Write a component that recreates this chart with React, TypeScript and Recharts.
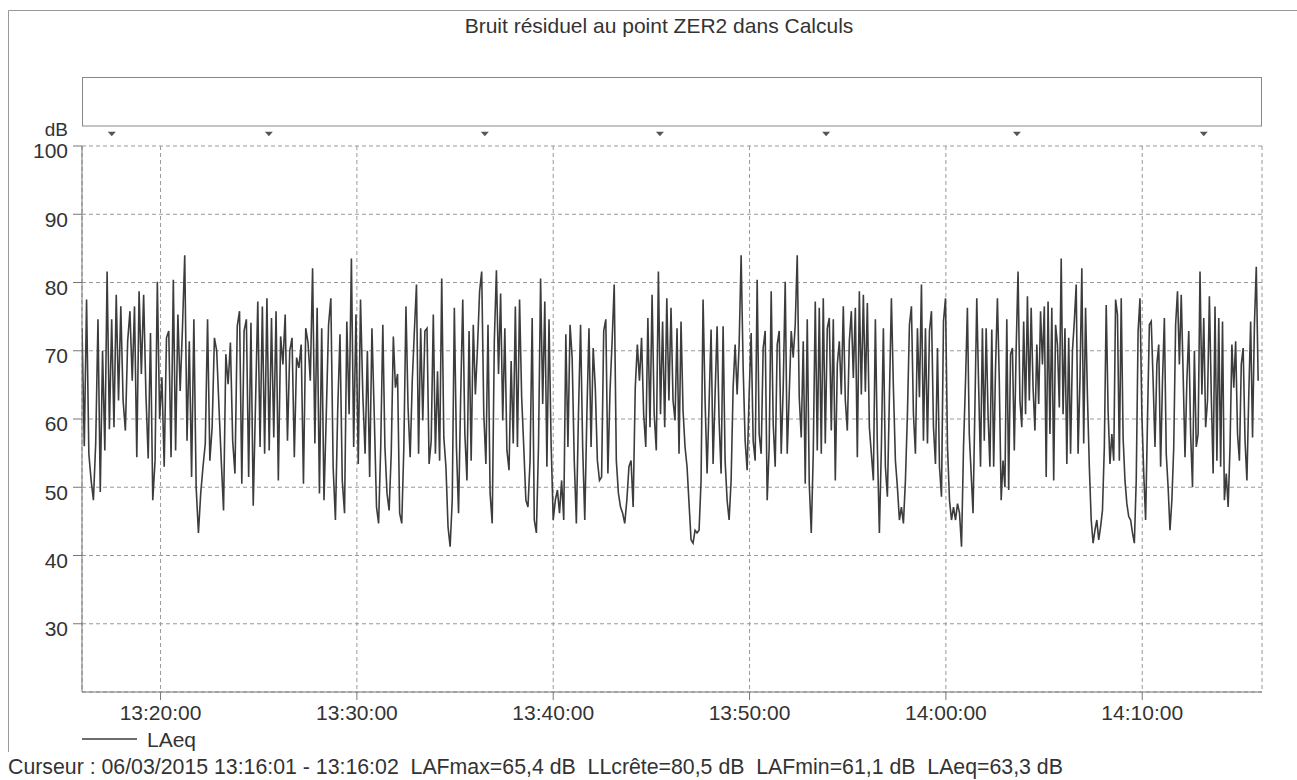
import React from 'react';
import { LineChart, Line, XAxis, YAxis, CartesianGrid, ReferenceDot } from 'recharts';

const FONT = '"Liberation Sans", Arial, Helvetica, sans-serif';

// LAeq readings, 15 minutes per segment, starting 13:16:00
const SEG_1316 = [
  73.3, 56.0, 77.5, 54.9, 51.0, 48.1, 56.4, 74.6, 49.3, 70.0, 55.4, 81.6, 58.5, 74.6, 58.8, 78.2, 62.7, 76.5, 62.7, 58.3,
  71.4, 75.8, 65.6, 76.5, 54.4, 78.7, 66.6, 78.2, 63.6, 54.2, 72.6, 48.1, 53.9, 80.1, 60.0, 66.1, 53.0, 71.9, 72.9, 54.4,
  80.4, 55.4, 75.3, 64.1, 73.3, 84.0, 56.8, 71.4, 51.5, 74.6, 50.0, 43.3, 49.1, 53.0, 56.4, 74.6, 53.9, 58.8, 71.9, 70.0,
  61.7, 53.9, 46.6, 69.5, 65.1, 71.2, 56.8, 52.0, 73.6, 75.8, 50.5, 72.9, 74.6, 51.5, 74.1, 47.3, 62.2, 77.2, 55.9, 76.5,
  54.9, 77.7, 55.4, 74.8, 57.3, 75.8, 51.0, 72.1, 68.0, 75.3, 56.8, 70.0, 71.9, 54.4, 69.0, 67.5, 70.9, 50.5, 73.3, 71.2,
  65.6, 82.1, 56.4, 76.3, 49.1, 73.3, 48.1, 60.7, 73.8, 77.7, 53.0, 45.2, 61.2, 72.4, 51.0, 46.2, 74.3, 60.7, 83.5, 55.9,
  75.3, 53.4, 77.5, 63.6, 54.9, 70.0, 51.5, 73.3, 60.7,
];
const SEG_1331 = [
  47.1, 44.7, 55.9, 73.8, 55.9, 49.1, 46.6, 54.9, 72.1, 64.6, 66.6, 46.2, 44.7, 55.9, 76.5, 61.7, 54.4, 65.6, 72.9, 79.7,
  54.9, 73.3, 59.8, 72.9, 73.3, 53.4, 56.8, 75.3, 54.9, 67.0, 53.9, 80.6, 57.3, 53.0, 44.2, 41.3, 48.1, 76.3, 55.9, 46.2,
  63.2, 77.5, 57.8, 51.0, 72.9, 53.9, 73.8, 63.6, 70.4, 78.7, 81.6, 60.7, 53.4, 73.8, 49.1, 44.7, 71.4, 81.8, 66.6, 78.4,
  59.8, 73.3, 55.4, 52.5, 68.5, 56.4, 76.5, 55.9, 77.5, 63.2, 55.9, 48.1, 47.1, 53.9, 74.8, 45.2, 43.3, 55.9, 80.6, 62.2,
  77.2, 53.0, 74.6, 56.4, 45.2, 48.1, 49.6, 46.2, 51.0, 45.2, 72.4, 55.9, 73.8, 69.0, 53.9, 44.7, 60.7, 73.8, 55.9, 45.2,
  60.7, 73.3, 55.9, 70.4, 64.6, 53.9, 51.0, 51.5, 72.9, 74.6, 52.0, 64.1, 71.4, 79.7, 53.9, 49.1, 47.1, 46.2, 44.7, 48.1,
  53.0, 53.9, 47.1, 64.6, 70.9, 65.6, 71.9, 60.7, 55.9, 74.8, 58.8, 78.2, 60.7, 55.4, 81.6, 60.7, 74.3, 58.8, 77.7, 62.7,
];
const SEG_1346 = [
  76.3, 62.7, 59.8, 73.3, 54.9, 74.3, 61.2, 55.9, 53.0, 47.6, 42.3, 41.8, 43.7, 43.3, 43.7, 51.0, 77.5, 62.7, 52.0, 62.2,
  73.1, 53.4, 63.6, 73.6, 59.8, 52.0, 73.6, 53.9, 48.1, 45.2, 51.0, 64.6, 70.9, 63.6, 70.9, 84.0, 67.5, 56.8, 52.5, 63.6,
  72.6, 56.8, 53.9, 80.4, 57.8, 54.9, 70.4, 72.9, 48.1, 55.9, 78.7, 59.3, 53.0, 70.9, 72.9, 54.9, 64.6, 80.1, 54.9, 63.6,
  72.9, 69.0, 73.8, 84.0, 63.2, 57.3, 71.4, 50.5, 74.6, 50.5, 43.3, 54.9, 77.2, 55.4, 76.3, 54.9, 77.7, 56.4, 73.3, 74.8,
  58.3, 74.6, 51.0, 68.0, 71.4, 63.6, 76.5, 62.7, 58.3, 71.4, 75.8, 66.0, 76.3, 54.4, 78.7, 63.6, 78.2, 64.0, 77.0, 58.8,
  54.9, 51.0, 74.6, 55.9, 43.3, 55.9, 73.3, 53.0, 48.6, 63.2, 77.7, 64.6, 53.9, 50.0, 45.2, 47.1, 44.7, 51.0, 60.7, 73.8,
  76.5, 60.7, 54.9, 73.3, 63.2, 79.7, 56.8, 73.3, 56.4, 72.9, 75.8, 58.8, 53.4, 70.4, 53.0, 48.6, 74.3, 77.7, 55.9, 48.1,
  45.2, 47.1, 45.2, 47.6, 46.2, 41.3, 55.9,
];
const SEG_1401 = [
  65.6, 76.3, 57.8, 52.0, 46.2, 61.7, 77.7, 64.6, 53.0, 73.3, 56.8, 73.3, 60.7, 53.0, 73.1, 53.0, 67.5, 77.7, 65.6, 48.1,
  53.9, 50.0, 74.6, 49.6, 69.5, 70.4, 55.4, 70.4, 81.6, 62.7, 58.8, 74.3, 60.7, 78.0, 62.7, 76.3, 64.6, 58.3, 70.9, 62.2,
  75.8, 68.0, 76.5, 51.5, 77.2, 57.8, 76.3, 51.0, 73.8, 70.9, 61.7, 83.5, 60.7, 73.3, 53.4, 71.9, 54.9, 70.0, 74.3, 79.7,
  54.9, 65.6, 82.1, 56.4, 76.3, 63.2, 53.0, 45.2, 41.8, 43.7, 45.2, 42.3, 44.2, 46.6, 55.9, 76.7, 61.2, 53.4, 57.8, 53.9,
  77.5, 75.3, 53.9, 77.7, 57.3, 51.0, 47.6, 45.7, 45.2, 43.3, 41.8, 51.0, 72.9, 77.7, 60.7, 52.0, 45.2, 59.8, 73.8, 74.3,
  65.6, 55.9, 68.0, 70.9, 53.0, 65.6, 74.8, 54.9, 50.0, 43.7, 48.1, 55.9, 73.8, 78.7, 68.0, 78.2, 66.6, 54.4, 65.6, 72.9,
  57.8, 50.0, 70.0, 55.9, 57.8, 81.6, 63.6, 74.8, 58.8, 62.7, 78.0, 63.6, 52.0, 76.5, 53.9, 74.8, 53.0, 74.3, 48.1, 52.0,
  47.1, 55.9, 70.9, 64.6, 71.4, 57.8, 53.9, 68.0, 70.4, 56.8, 51.0, 63.6, 74.3, 57.3, 73.8, 82.3, 65.6,
];

const SEGMENTS = [SEG_1316, SEG_1331, SEG_1346, SEG_1401];
const SEG_LEN = 900; // seconds per segment

// event markers (seconds after 13:16:00)
const MARKERS = [91, 571, 1231, 1766, 2274, 2857, 3428];

const X_TICKS = [240, 840, 1440, 2040, 2640, 3240];
const Y_TICKS = [30, 40, 50, 60, 70, 80, 90, 100];

const data = SEGMENTS.flatMap((seg, k) =>
  seg.map((v, j) => ({ t: k * SEG_LEN + (j * SEG_LEN) / seg.length, laeq: v }))
);

const pad = (n: number) => String(n).padStart(2, '0');
const fmtTime = (s: number) => {
  const total = 13 * 3600 + 16 * 60 + Math.round(s);
  return `${pad(Math.floor(total / 3600))}:${pad(Math.floor((total % 3600) / 60))}:${pad(total % 60)}`;
};

const Marker = (p: any) => (
  <path d={`M${p.cx - 4},${p.cy - 2} L${p.cx + 4},${p.cy - 2} L${p.cx},${p.cy + 2.5} Z`} fill="#555" />
);

const tickStyle = { fill: '#333', fontSize: 21, fontFamily: FONT };

export default function App() {
  return (
    <div style={{ position: 'absolute', left: 0, top: 0, width: 1297, height: 780, background: '#fff' }}>
      <LineChart
        width={1297}
        height={780}
        data={data}
        margin={{ top: 146, right: 35, bottom: 48, left: 12 }}
      >
        <CartesianGrid stroke="#999" strokeDasharray="4 3" />
        <XAxis
          type="number"
          dataKey="t"
          domain={[0, 3606]}
          ticks={X_TICKS}
          tickFormatter={fmtTime}
          allowDataOverflow
          height={40}
          tickSize={8}
          tickMargin={5}
          axisLine={{ stroke: '#777' }}
          tickLine={{ stroke: '#777' }}
          tick={tickStyle}
        />
        <YAxis
          type="number"
          domain={[20, 100]}
          ticks={Y_TICKS}
          allowDataOverflow
          width={70}
          tickSize={9}
          tickMargin={5}
          axisLine={{ stroke: '#777' }}
          tickLine={{ stroke: '#777' }}
          tick={{ ...tickStyle, dy: 5 }}
        />
        <YAxis
          yAxisId="right"
          orientation="right"
          domain={[20, 100]}
          width={0}
          tick={false}
          tickLine={false}
          axisLine={{ stroke: '#777' }}
        />
        <Line
          type="linear"
          dataKey="laeq"
          stroke="#3c3c3c"
          strokeWidth={1.6}
          dot={false}
          isAnimationActive={false}
        />
        {MARKERS.map((m) => (
          <ReferenceDot key={m} x={m} y={101.8} ifOverflow="visible" shape={Marker} />
        ))}
      </LineChart>
      <svg
        width={1297}
        height={780}
        style={{ position: 'absolute', left: 0, top: 0, pointerEvents: 'none' }}
        fontFamily={FONT}
        fill="#333"
      >
        <path d="M8.5,752 V10.5 H1297" fill="none" stroke="#999" />
        <text x={659} y={33} fontSize={21} textAnchor="middle">
          Bruit résiduel au point ZER2 dans Calculs
        </text>
        <rect x={82.5} y={77.5} width={1179} height={48.5} fill="none" stroke="#888" />
        <text x={68} y={136} fontSize={19} textAnchor="end">
          dB
        </text>
        <line x1={82} x2={137} y1={739} y2={739} stroke="#3c3c3c" strokeWidth={1.3} />
        <text x={147} y={747} fontSize={21}>
          LAeq
        </text>
        <text x={8} y={774} fontSize={21.3} style={{ whiteSpace: 'pre' }}>
          {'Curseur : 06/03/2015 13:16:01 - 13:16:02  LAFmax=65,4 dB  LLcrête=80,5 dB  LAFmin=61,1 dB  LAeq=63,3 dB'}
        </text>
      </svg>
    </div>
  );
}
